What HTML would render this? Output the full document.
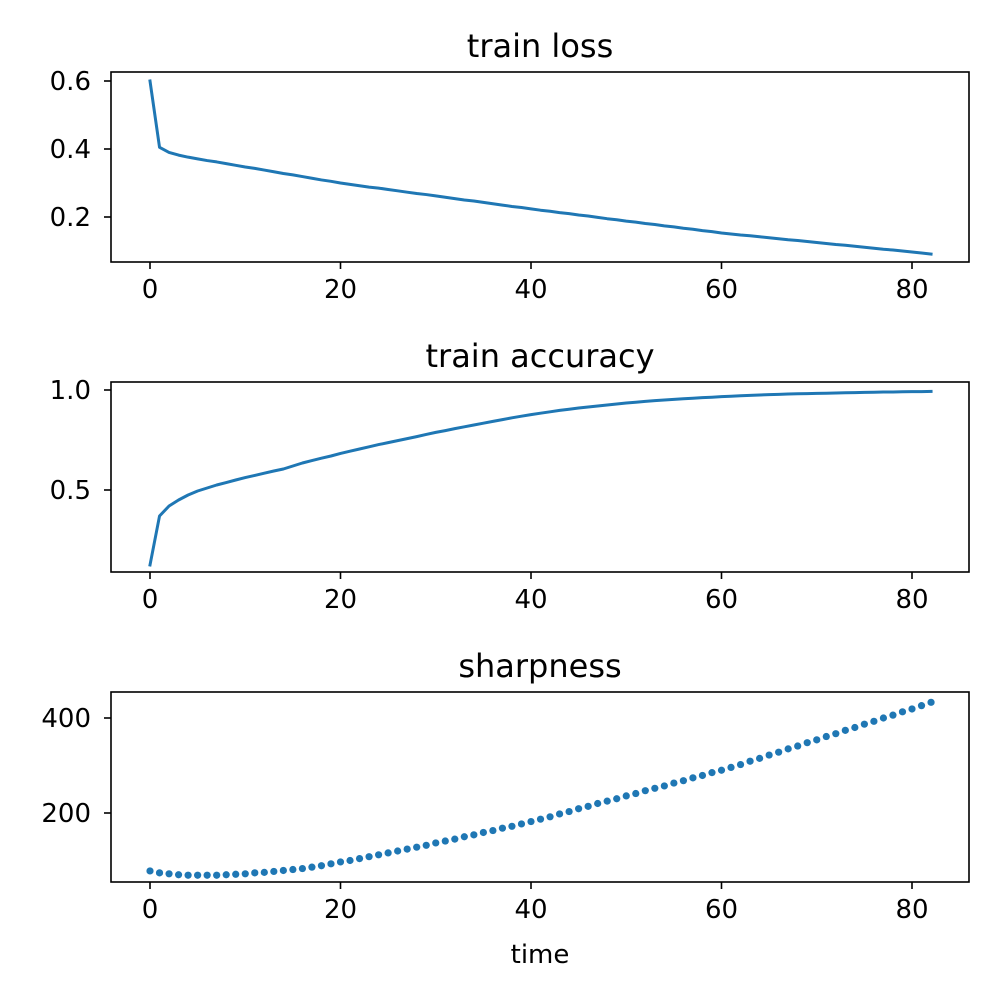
<!DOCTYPE html>
<html><head><meta charset="utf-8"><style>
html,body{margin:0;padding:0;background:#fff}
svg text{font-family:"DejaVu Sans","Liberation Sans",sans-serif;fill:#000}
</style></head><body>
<svg id="c" width="1000" height="1000" viewBox="0 0 1000 1000" xmlns="http://www.w3.org/2000/svg"></svg>
<script>
const epochs = Array.from({length:83},(_,i)=>i);
const lossValues = [0.600,0.405,0.390,0.382,0.376,0.371,0.366,0.362,0.357,0.352,0.347,0.343,0.338,0.333,0.328,0.324,0.319,0.314,0.309,0.305,0.300,
0.296,0.292,0.288,0.285,0.281,0.277,0.273,0.269,0.266,0.262,0.258,0.254,0.250,0.247,0.243,0.239,0.235,0.231,0.228,0.224,
0.220,0.217,0.213,0.210,0.206,0.203,0.199,0.195,0.192,0.188,0.185,0.181,0.178,0.174,0.171,0.167,0.164,0.160,0.157,0.153,
0.150,0.147,0.145,0.142,0.139,0.136,0.133,0.131,0.128,0.125,0.122,0.119,0.117,0.114,0.111,0.108,0.105,0.103,0.100,0.097,0.094,0.091];
const accValues = [0.125,0.37,0.42,0.45,0.475,0.495,0.51,0.525,0.537,0.55,0.562,0.573,0.584,0.595,0.605,0.62,0.635,0.647,0.659,0.67,0.683,
0.694,0.705,0.716,0.727,0.737,0.747,0.757,0.767,0.778,0.788,0.797,0.807,0.816,0.825,0.834,0.843,0.852,0.861,0.869,0.877,
0.884,0.891,0.898,0.904,0.910,0.915,0.920,0.925,0.930,0.935,0.939,0.943,0.947,0.950,0.953,0.956,0.959,0.962,0.964,0.967,
0.969,0.971,0.973,0.975,0.977,0.978,0.980,0.981,0.982,0.983,0.984,0.985,0.986,0.987,0.988,0.989,0.990,0.990,0.991,0.992,0.992,0.993];
const sharpValues = [78,74,72,70,69,69,69,69,70,71,72,74,75,77,79,81,83,86,89,93,97,
100,104,108,112,116,120,124,128,132,137,141,145,150,154,159,163,168,172,177,182,
187,192,198,203,209,214,220,225,230,236,241,247,252,257,263,268,274,279,285,290,
296,302,309,315,322,328,335,341,348,354,361,367,374,380,387,393,400,406,413,419,426,433];
const xTicks = [0,20,40,60,80];
const lossTicks = [0.2,0.4,0.6];
const accTicks = [0.5,1.0];
const sharpTicks = [200,400];

const NS="http://www.w3.org/2000/svg";
const svg=document.getElementById('c');
function mk(tag,attrs,parent){const e=document.createElementNS(NS,tag);for(const k in attrs)e.setAttribute(k,attrs[k]);(parent||svg).appendChild(e);return e;}
const X0=111,X1=969;
const xScale=v=>150+(v-0)*(912-150)/80;

function panel(name,title,top,vals,yTicks,yA,yB,pxA,pxB,fmt,scatter,xlabel){
  const g=mk('g',{});
  
  
  const bottom=top+190;
  const yScale=v=>pxA+(v-yA)*(pxB-pxA)/(yB-yA);
  const t=mk('text',{x:540,y:top-15,'font-size':'32','text-anchor':'middle'},g);
  t.textContent=title;
  
  
  if(scatter){
    const sg=mk('g',{},g);
    
    
    vals.forEach((v,i)=>{
      const c=mk('circle',{cx:xScale(epochs[i]),cy:yScale(v),r:3.6,fill:'#1f77b4'},sg);
      
      
    });
  } else {
    const d=vals.map((v,i)=>(i?'L':'M')+xScale(epochs[i]).toFixed(2)+','+yScale(v).toFixed(2)).join('');
    const p=mk('path',{d:d,fill:'none',stroke:'#1f77b4','stroke-width':3,'stroke-linejoin':'round','stroke-linecap':'square'},g);
    
    
  }
  const fr=mk('rect',{x:X0,y:top,width:X1-X0,height:190,fill:'none',stroke:'#000','stroke-width':1.6},g);
  
  
  xTicks.forEach(v=>{
    const x=xScale(v);
    mk('line',{x1:x,x2:x,y1:bottom,y2:bottom+7,stroke:'#000','stroke-width':1.6},g);
    const l=mk('text',{x:x,y:bottom+36,'font-size':'26','text-anchor':'middle'},g);
    l.textContent=String(v);
    
    
  });
  yTicks.forEach(v=>{
    const y=yScale(v);
    mk('line',{x1:X0-7,x2:X0,y1:y,y2:y,stroke:'#000','stroke-width':1.6},g);
    const l=mk('text',{x:X0-20,y:y+9,'font-size':'26','text-anchor':'end'},g);
    l.textContent=fmt(v);
    
    
  });
  if(xlabel){
    const l=mk('text',{x:540,y:963,'font-size':'26','text-anchor':'middle'},g);
    l.textContent=xlabel;
    
    
  }
}
panel('train-loss','train loss',72,lossValues,lossTicks,0.4,0.6,149,81,v=>v.toFixed(1),false);
panel('train-accuracy','train accuracy',382,accValues,accTicks,0.5,1.0,490,390,v=>v.toFixed(1),false);
panel('sharpness','sharpness',692,sharpValues,sharpTicks,200,400,813,718,v=>String(v),true,'time');
</script>
</body></html>
